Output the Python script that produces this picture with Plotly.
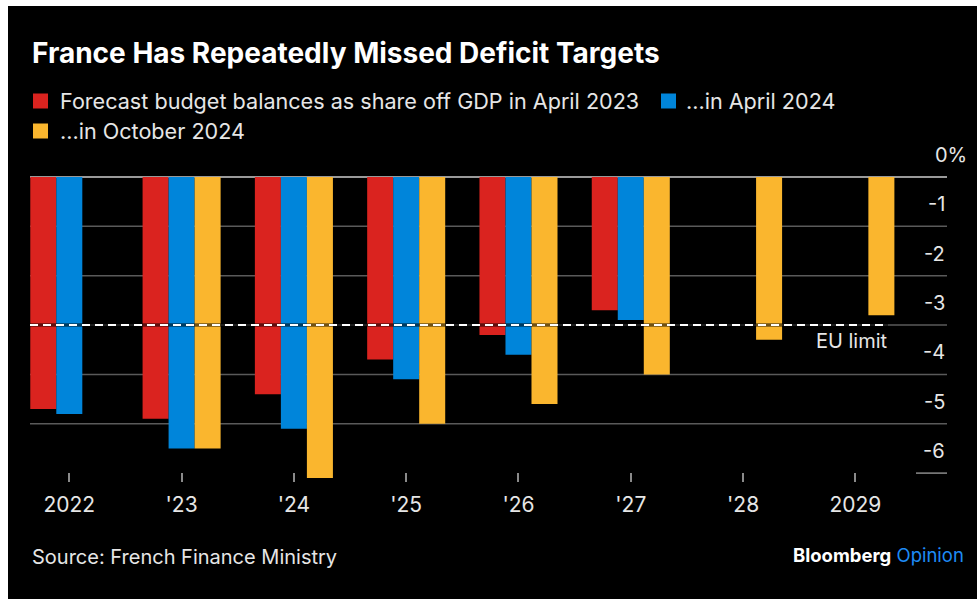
import plotly.graph_objects as go

# Forecast general government balance, % of GDP
years = ["2022", "'23", "'24", "'25", "'26", "'27", "'28", "2029"]
apr_2023 = [-4.7, -4.9, -4.4, -3.7, -3.2, -2.7, None, None]
apr_2024 = [-4.8, -5.5, -5.1, -4.1, -3.6, -2.9, None, None]
oct_2024 = [None, -5.5, -6.1, -5.0, -4.6, -4.0, -3.3, -2.8]

series_names = [
    "Forecast budget balances as share off GDP in April 2023",
    "...in April 2024",
    "...in October 2024",
]
y_ticks = [0, -1, -2, -3, -4, -5, -6]
y_tick_text = ["0%", "-1", "-2", "-3", "-4", "-5", "-6"]
eu_limit = -3

RED = "#DA231F"
BLUE = "#0085DA"
YELLOW = "#FAB62E"
BG = "#000000"
TEXT = "#E6E6E6"
FONT = "Inter, Liberation Sans, Arial, sans-serif"

W, H = 977, 599
M_L, M_R, M_T, M_B = 30, 30, 172, 117
PLOT_W = W - M_L - M_R
PLOT_H = H - M_T - M_B


def px_x(px):
    return (px - M_L) / PLOT_W


def px_y(py):
    return (H - M_B - py) / PLOT_H


fig = go.Figure()
for name, vals, col in zip(series_names, [apr_2023, apr_2024, oct_2024], [RED, BLUE, YELLOW]):
    fig.add_trace(go.Bar(
        x=years, y=vals, name=name, marker_color=col,
        marker_line_width=0, showlegend=False,
    ))

shapes = []
# black card on a white page
shapes.append(dict(type="rect", xref="paper", yref="paper",
                   x0=px_x(8), x1=px_x(W + 2), y0=px_y(H + 2), y1=px_y(6),
                   fillcolor=BG, line_width=0, layer="below"))
# horizontal grid lines
for v in y_ticks[1:-1]:
    shapes.append(dict(type="line", xref="paper", yref="y", x0=0, x1=1, y0=v, y1=v,
                       line=dict(color="#5A5A5A", width=1.5), layer="below"))
shapes.append(dict(type="line", xref="paper", yref="y", x0=px_x(916), x1=1, y0=-6, y1=-6,
                   line=dict(color="#8A8A8A", width=1.5), layer="below"))
# zero line
shapes.append(dict(type="line", xref="paper", yref="y", x0=0, x1=1, y0=0, y1=0,
                   line=dict(color="#9A9A9A", width=2), layer="below"))
# EU deficit limit
shapes.append(dict(type="line", xref="paper", yref="y", x0=0, x1=px_x(888), y0=eu_limit, y1=eu_limit,
                   line=dict(color="rgba(0,0,0,0.55)", width=3.5), layer="above"))
shapes.append(dict(type="line", xref="paper", yref="y", x0=0, x1=px_x(888), y0=eu_limit, y1=eu_limit,
                   line=dict(color="#FFFFFF", width=2, dash="8px,5px"), layer="above"))

annotations = []
# y tick labels sit above their grid lines at the right edge
for v, t in zip(y_ticks, y_tick_text):
    if v == 0:
        annotations.append(dict(x=px_x(933), y=v, xref="paper", yref="y", text=t, showarrow=False,
                                xanchor="left", yanchor="bottom", yshift=8,
                                font=dict(size=20, color=TEXT, family=FONT)))
    else:
        annotations.append(dict(x=1, y=v, xref="paper", yref="y", text=t, showarrow=False,
                                xanchor="right", yanchor="bottom", yshift=8,
                                font=dict(size=20, color=TEXT, family=FONT)))
annotations.append(dict(x=px_x(890), y=eu_limit, xref="paper", yref="y", text="EU limit", showarrow=False,
                        xanchor="right", yanchor="top", yshift=-2,
                        font=dict(size=20, color=TEXT, family=FONT)))

# title
annotations.append(dict(x=px_x(30), y=px_y(53), xref="paper", yref="paper",
                        text="<b>France Has Repeatedly Missed Deficit Targets</b>", showarrow=False,
                        xanchor="left", yanchor="middle",
                        font=dict(size=28, color="#FFFFFF", family=FONT)))

# legend
legend_items = [
    (series_names[0], RED, 33, 101, 58),
    (series_names[1], BLUE, 661, 101, 684),
    (series_names[2], YELLOW, 33, 131, 58),
]
for name, col, sx, cy, tx in legend_items:
    shapes.append(dict(type="rect", xref="paper", yref="paper",
                       x0=px_x(sx), x1=px_x(sx + 15), y0=px_y(cy + 7.5), y1=px_y(cy - 7.5),
                       fillcolor=col, line_width=0))
    annotations.append(dict(x=px_x(tx), y=px_y(cy), xref="paper", yref="paper", text=name,
                            showarrow=False, xanchor="left", yanchor="middle",
                            font=dict(size=21.6, color=TEXT, family=FONT)))

# footer
annotations.append(dict(x=px_x(30), y=px_y(557), xref="paper", yref="paper",
                        text="Source: French Finance Ministry", showarrow=False,
                        xanchor="left", yanchor="middle",
                        font=dict(size=20, color=TEXT, family=FONT)))
annotations.append(dict(x=px_x(966), y=px_y(555), xref="paper", yref="paper",
                        text="<b>Bloomberg</b> <span style='color:#1E8BF5'>Opinion</span>",
                        showarrow=False, xanchor="right", yanchor="middle",
                        font=dict(size=18.5, color="#FFFFFF", family=FONT)))

fig.update_layout(
    width=W, height=H,
    margin=dict(l=M_L, r=M_R, t=M_T, b=M_B),
    paper_bgcolor="#FFFFFF", plot_bgcolor=BG,
    barmode="group", bargap=0.305, bargroupgap=0,
    shapes=shapes, annotations=annotations,
    showlegend=False,
    xaxis=dict(
        type="category", range=[-0.35, 7.816], showgrid=False, zeroline=False,
        showline=False, ticks="inside", ticklen=9, tickwidth=1.5, tickcolor="#8A8A8A",
        ticklabelstandoff=8,
        tickfont=dict(size=21, color=TEXT, family=FONT), fixedrange=True,
    ),
    yaxis=dict(
        range=[-6.18, 0.1], showgrid=False, zeroline=False, showticklabels=False,
        showline=False, ticks="", fixedrange=True,
    ),
)

fig.write_html("out.html")
